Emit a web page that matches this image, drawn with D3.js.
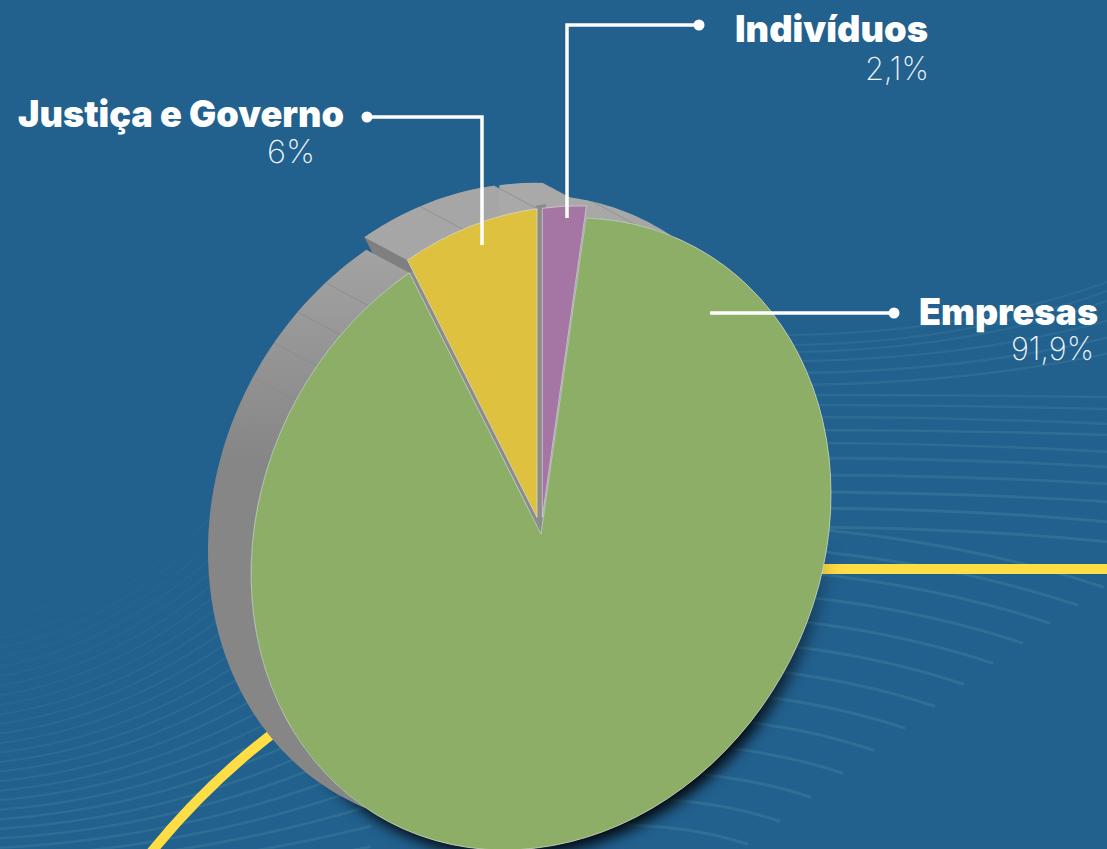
<!DOCTYPE html>
<html>
<head>
<meta charset="utf-8">
<title>Pie</title>
<script src="https://d3js.org/d3.v7.min.js"></script>
<style>
  html, body { margin: 0; padding: 0; background: #22608e; }
  svg { display: block; }
  .name { font-family: Inter, Lato, sans-serif; font-weight: 900; fill: #fff; }
  .pct { font-family: Inter, Lato, sans-serif; font-weight: 200; fill: #eef4f8; }
</style>
</head>
<body>
<div id="chart"></div>
<script>
// values (clockwise from the top)
var categories = ["Indivíduos", "Empresas", "Justiça e Governo"];
var shares = [2.1, 91.9, 6];
var shareLabels = ["2,1%", "91,9%", "6%"];
var sliceColors = ["#a575a3", "#8cae66", "#dec23f"];

var width = 1107, height = 849;

// the source is a tilted 3d pie, so the ellipse is sheared and the slices are
// a bit wider at the top than their share
var cx = 541, cy = 534, rx = 290, ry = 313.5, shear = -40;
var depth = { x: -43, y: -23 };
var explode = 17, explodedRadius = 0.985;
var angleOf = d3.scaleLinear().domain([0, 2.1, 94, 100]).range([0, 8.9, 333, 360]);
var rad = Math.PI / 180;

var svg = d3.select("#chart").append("svg").attr("width", width).attr("height", height);
var defs = svg.append("defs");

defs.append("filter").attr("id", "blur")
    .attr("filterUnits", "userSpaceOnUse")
    .attr("x", 150).attr("y", 150).attr("width", 800).attr("height", 800)
  .append("feGaussianBlur").attr("stdDeviation", 7);

var sideGrad = defs.append("linearGradient").attr("id", "side")
    .attr("gradientUnits", "userSpaceOnUse")
    .attr("x1", 0).attr("x2", 0).attr("y1", 190).attr("y2", 460);
sideGrad.append("stop").attr("offset", 0).attr("stop-color", "#ababab");
sideGrad.append("stop").attr("offset", 1).attr("stop-color", "#868686");

// shadow only shows towards the bottom of the pie
var fadeGrad = defs.append("linearGradient").attr("id", "fade")
    .attr("gradientUnits", "userSpaceOnUse")
    .attr("x1", 0).attr("x2", 0).attr("y1", 540).attr("y2", 740);
fadeGrad.append("stop").attr("offset", 0).attr("stop-color", "#000");
fadeGrad.append("stop").attr("offset", 0.2).attr("stop-color", "#333");
fadeGrad.append("stop").attr("offset", 1).attr("stop-color", "#fff");
defs.append("mask").attr("id", "shadowMask")
    .attr("maskUnits", "userSpaceOnUse")
    .attr("x", 0).attr("y", 0).attr("width", width).attr("height", height)
  .append("rect").attr("width", width).attr("height", height).attr("fill", "url(#fade)");

svg.append("rect").attr("width", width).attr("height", height).attr("fill", "#22608e");

// background line work -------------------------------------------------------
var deco = svg.append("g").attr("fill", "none").attr("stroke", "#2f6f94").attr("stroke-linecap", "round");

// upper right fan: y at x=830 and y at the right edge
var fanLeft = [335, 345, 352, 361, 373, 385, 395, 405, 417, 430, 443, 458, 475, 492, 508, 527];
var fanRight = [281, 290, 300, 320, 337, 353, 375, 387, 402, 413, 430, 445, 462, 480, 500, 520];
fanLeft.forEach(function(y, i) {
  var p = d3.path();
  p.moveTo(780, y);
  p.quadraticCurveTo(960, y, 1110, fanRight[i] + (i > 5 ? 22 : 0));
  deco.append("path").attr("d", p.toString())
      .attr("stroke-width", 2 + i * 0.07)
      .attr("opacity", 0.7 + i * 0.02);
});

// lower right lines that stop short of the edge
var endX = [1103, 1077, 1049, 1022, 992, 963, 934, 904, 873, 842, 810, 779, 747, 715];
var endY = [587, 605, 623, 643, 663, 684, 706, 728, 750, 773, 797, 821, 844, 868];
endX.forEach(function(x, i) {
  var len = x - 600, h = len * 0.135;
  var p = d3.path();
  p.moveTo(x - len, endY[i] - h);
  p.quadraticCurveTo(x - len * 0.4, endY[i] - h, x, endY[i]);
  deco.append("path").attr("d", p.toString()).attr("stroke-width", 3);
});

// left fan, rises towards the pie
d3.range(0, 30).forEach(function(i) {
  var y0 = 620 + i * 9.5;
  var rise = 205 - i * 6.5;
  var p = d3.path();
  p.moveTo(-5, y0);
  p.quadraticCurveTo(190, y0 - rise * 0.18, 370, y0 - rise * 1.7);
  deco.append("path").attr("d", p.toString())
      .attr("stroke-width", 1 + i * 0.07)
      .attr("opacity", 0.3 + i * 0.025);
});

// yellow rings behind the pie ------------------------------------------------
svg.append("line").attr("x1", 780).attr("x2", width + 5).attr("y1", 569).attr("y2", 569)
    .attr("stroke", "#ffdd44").attr("stroke-width", 10);
var ring = d3.path();
ring.moveTo(320, 700);
ring.quadraticCurveTo(220, 765, 145, 860);
svg.append("path").attr("d", ring.toString()).attr("fill", "none")
    .attr("stroke", "#ffdd44").attr("stroke-width", 10);

// pie ------------------------------------------------------------------------
var slices = d3.pie().sort(null).value(function(d) { return d; })(shares).map(function(s, i) {
  var start = angleOf(s.startAngle / (2 * Math.PI) * 100) * rad;
  var end = angleOf(s.endAngle / (2 * Math.PI) * 100) * rad;
  var out = categories[i] !== "Empresas";
  var mid = (start + end) / 2;
  return {
    index: i, start: start, end: end, out: out, r: out ? explodedRadius : 1,
    ox: cx + (out ? explode * Math.sin(mid) : 0),
    oy: cy - (out ? explode * Math.cos(mid) : 0)
  };
});
var green = slices[1], yellow = slices[2], purple = slices[0];

var arc = d3.arc().innerRadius(0);
function sectorPath(s, a0, a1, r) {
  return arc({ startAngle: a0 === undefined ? s.start : a0, endAngle: a1 === undefined ? s.end : a1, outerRadius: r || s.r });
}
function matrix(ox, oy) {
  return "matrix(" + [rx, shear, 0, ry, ox, oy].join(",") + ")";
}
function project(s, a, r) {
  var X = (r || s.r) * Math.sin(a), Y = -(r || s.r) * Math.cos(a);
  return [s.ox + rx * X, s.oy + shear * X + ry * Y];
}
// band of the outer wall between two angles
function band(s, a0, a1) {
  var n = Math.max(2, Math.ceil((a1 - a0) / (1 * rad)));
  var pts = d3.range(0, n + 1).map(function(k) { return project(s, a0 + (a1 - a0) * k / n); });
  var back = pts.slice().reverse().map(function(p) { return [p[0] + depth.x, p[1] + depth.y]; });
  return d3.line()(pts.concat(back)) + "Z";
}
function sweep(g, s, fill) {
  d3.range(0, 1.001, 1 / 40).forEach(function(t) {
    g.append("path").attr("d", sectorPath(s))
        .attr("transform", matrix(s.ox + depth.x * t, s.oy + depth.y * t))
        .attr("fill", fill);
  });
}
function seam(g, s, a) {
  var p = project(s, a * rad);
  g.append("line")
      .attr("x1", p[0]).attr("y1", p[1])
      .attr("x2", p[0] + depth.x).attr("y2", p[1] + depth.y)
      .attr("stroke", "#8a8a80").attr("stroke-width", 0.7);
}

// soft shadow at the lower right, blur sits on the group so it stays in pixels
svg.append("g").attr("mask", "url(#shadowMask)")
  .append("g").attr("filter", "url(#blur)")
  .append("path").attr("d", arc({ startAngle: 0, endAngle: 2 * Math.PI, outerRadius: 1 }))
    .attr("transform", matrix(cx + 5, cy + 7))
    .attr("fill", "#000").attr("opacity", 0.9);

var sides = svg.append("g");
sweep(sides, yellow, "#7f7f7f");
sides.append("path").attr("d", band(green, green.start, green.end)).attr("fill", "url(#side)");
sides.append("path").attr("d", band(yellow, yellow.start, yellow.end)).attr("fill", "#a6a6a6");
sweep(sides, purple, "#a9a9a9");

// facet seams on the wall
[19, 323.5, 316.3, 309.4, 302.3, 293.2].forEach(function(a) { seam(sides, green, a); });
seam(sides, yellow, 345);
seam(sides, yellow, 360);

// walls seen through the gaps between the slices
var walls = svg.append("g").attr("fill", "#8c8c8c");
walls.append("path").attr("d", sectorPath(green, green.end - 2 * Math.PI, green.start, 1)).attr("transform", matrix(cx, cy));
walls.append("path").attr("d", sectorPath(green, -1 * rad, 1 * rad, 1.05)).attr("transform", matrix(cx, cy));

// top faces
svg.append("g").selectAll("path")
    .data([green, yellow, purple])
  .join("path")
    .attr("d", function(d) { return sectorPath(d); })
    .attr("transform", function(d) { return matrix(d.ox, d.oy); })
    .attr("fill", function(d) { return sliceColors[d.index]; })
    .attr("stroke", "#e4e4e4").attr("stroke-width", 0.6)
    .attr("vector-effect", "non-scaling-stroke");

// leaders --------------------------------------------------------------------
var leaderPaths = [
  [[699, 25], [567, 25], [567, 218]],
  [[894, 313], [710, 313]],
  [[367, 117], [482, 117], [482, 245]]
];
var leaders = svg.append("g");
leaders.selectAll("path").data(leaderPaths).join("path")
    .attr("d", d3.line())
    .attr("fill", "none").attr("stroke", "#fff").attr("stroke-width", 3.5);
leaders.selectAll("circle").data(leaderPaths).join("circle")
    .attr("cx", function(d) { return d[0][0]; })
    .attr("cy", function(d) { return d[0][1]; })
    .attr("r", 5.5).attr("fill", "#fff");

// labels: left edge, width and baseline of each text
var nameBox = [[735, 193, 42], [919, 179, 325], [18, 326, 127]];
var pctBox = [[865, 64, 80], [1011, 83, 360], [267, 48, 163]];
svg.append("g").selectAll("text").data(categories).join("text")
    .attr("class", "name")
    .attr("x", function(d, i) { return nameBox[i][0]; })
    .attr("y", function(d, i) { return nameBox[i][2]; })
    .attr("textLength", function(d, i) { return nameBox[i][1]; })
    .attr("lengthAdjust", "spacingAndGlyphs")
    .attr("font-size", 37)
    .text(function(d) { return d; });
svg.append("g").selectAll("text").data(shareLabels).join("text")
    .attr("class", "pct")
    .attr("x", function(d, i) { return pctBox[i][0]; })
    .attr("y", function(d, i) { return pctBox[i][2]; })
    .attr("textLength", function(d, i) { return pctBox[i][1]; })
    .attr("lengthAdjust", "spacingAndGlyphs")
    .attr("font-size", 32)
    .text(function(d) { return d; });
</script>
</body>
</html>
